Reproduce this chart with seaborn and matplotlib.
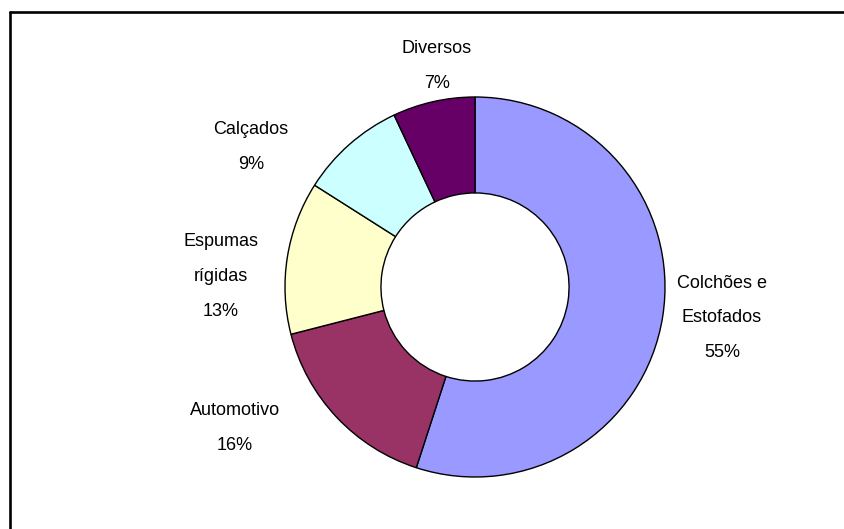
import matplotlib
matplotlib.use("Agg")
import matplotlib.pyplot as plt
from matplotlib.lines import Line2D
import seaborn as sns

# Market share by application segment
categories = ["Colchões e\nEstofados", "Automotivo", "Espumas\nrígidas", "Calçados", "Diversos"]
shares = [55, 16, 13, 9, 7]
colors = ["#9999FF", "#993366", "#FFFFCC", "#CCFFFF", "#660066"]

# Label block centres (pie radius = 1, centre at origin)
label_pos = [(1.30, -0.163), (-1.263, -0.742), (-1.337, 0.055), (-1.179, 0.737), (-0.20, 1.163)]

sns.set_theme(style="white")
plt.rcParams["font.family"] = ["Liberation Sans", "DejaVu Sans"]

fig = plt.figure(figsize=(8.45, 5.29), dpi=100)
fig.patch.set_facecolor("white")
ax = fig.add_axes([0, 0, 1, 1])

wedges, _ = ax.pie(
    shares,
    colors=colors,
    startangle=90,
    counterclock=False,
    radius=1.0,
    wedgeprops=dict(width=0.505, edgecolor="black", linewidth=1.0),
)

for name, val, (lx, ly) in zip(categories, shares, label_pos):
    ax.text(lx, ly, f"{name}\n{val}%", ha="center", va="center",
            fontsize=13, color="black", linespacing=2.35)

ax.set_xlim(-2.5, 845 / 190 - 2.5)
ax.set_ylim(-(529 - 287) / 190, 287 / 190)
ax.set_aspect("auto")
ax.axis("off")

# Chart frame (top and left edges)
fig.add_artist(Line2D([10 / 845, 1.0], [1 - 12 / 529, 1 - 12 / 529],
                      transform=fig.transFigure, color="black", linewidth=1.9))
fig.add_artist(Line2D([10 / 845, 10 / 845], [0.0, 1 - 12 / 529],
                      transform=fig.transFigure, color="black", linewidth=1.9))

fig.savefig("out.png", dpi=100, facecolor="white")
